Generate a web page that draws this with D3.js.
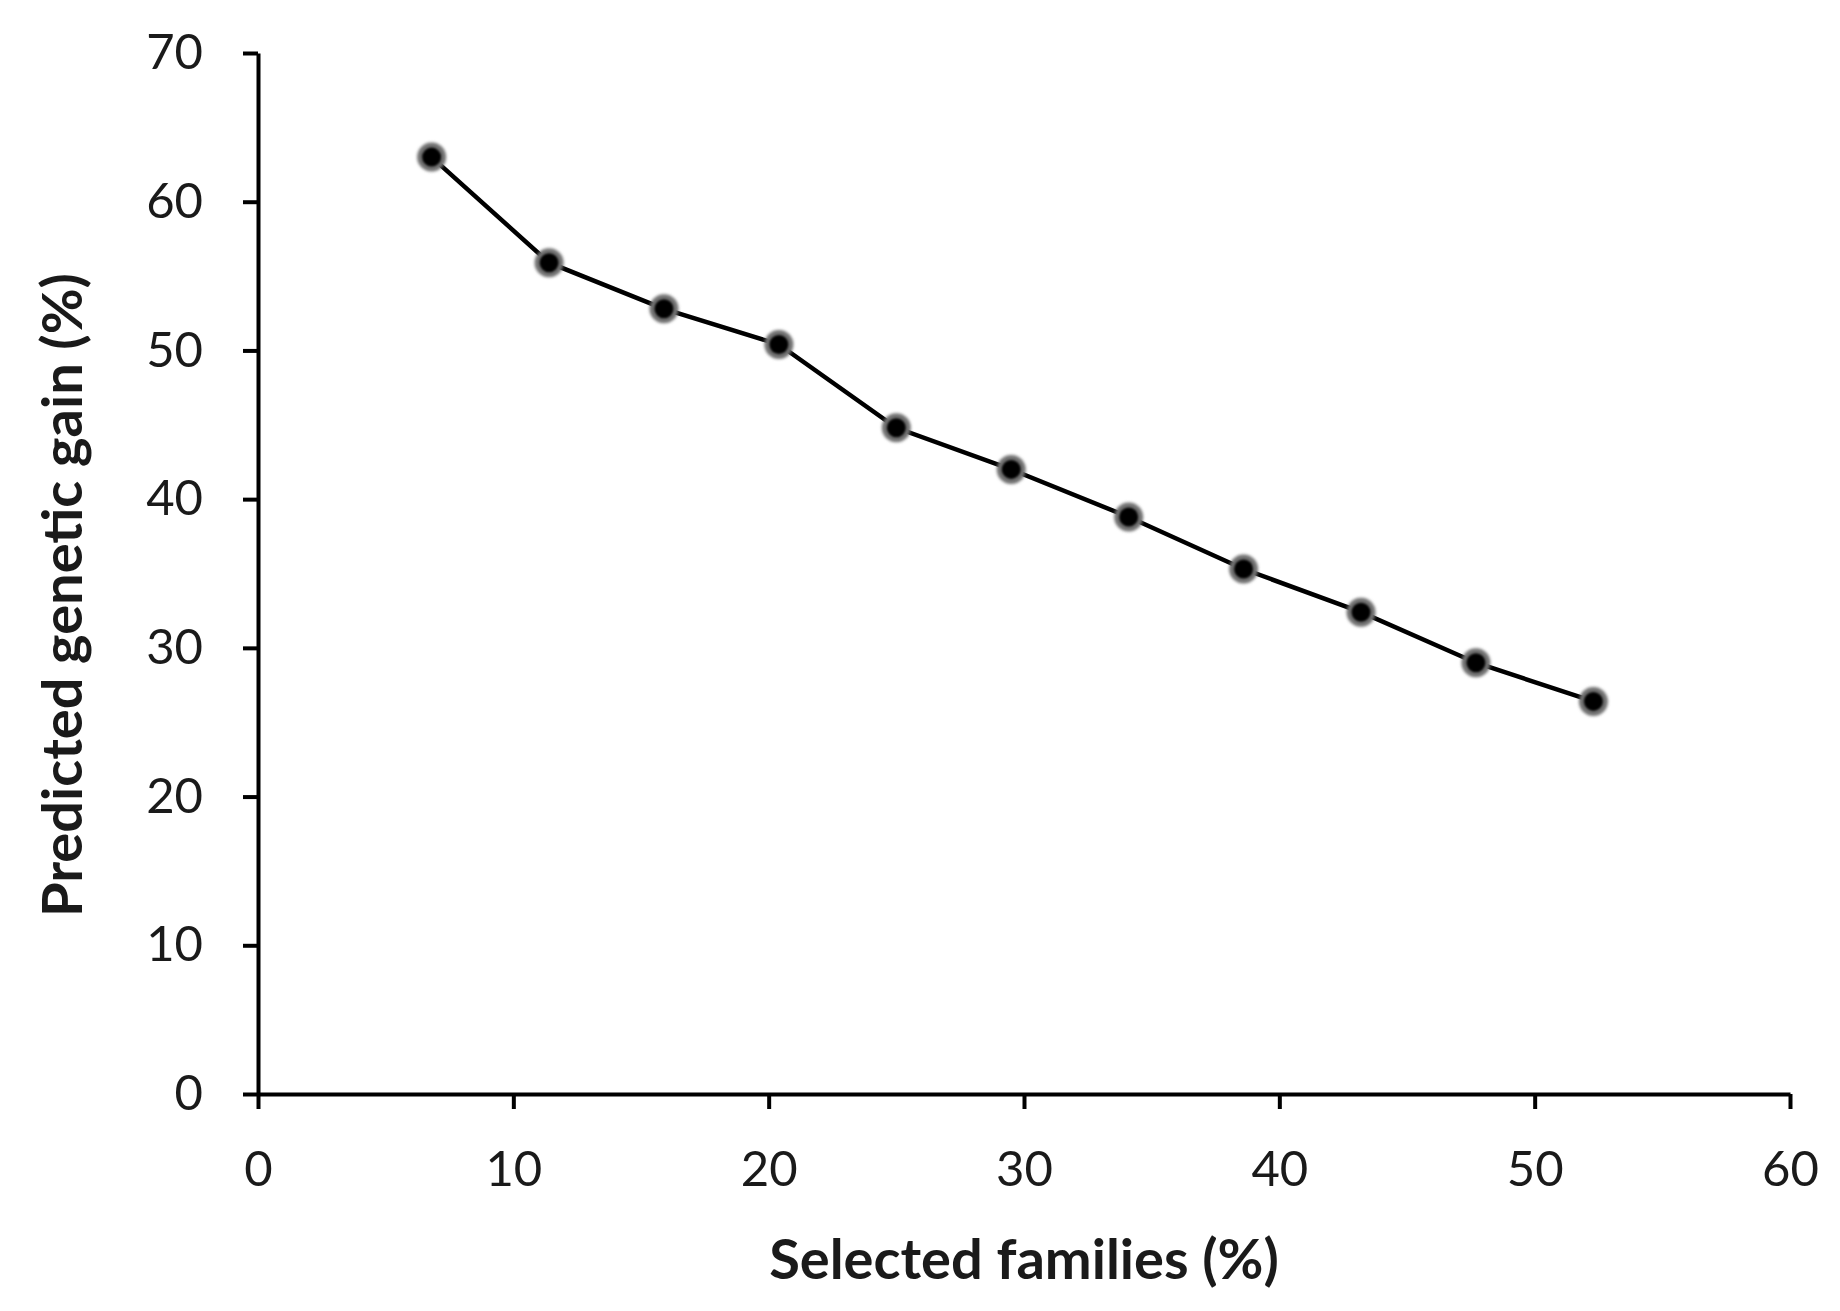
<!DOCTYPE html>
<html>
<head>
<meta charset="utf-8">
<script src="https://cdn.jsdelivr.net/npm/d3@7"></script>
<style>
  body { margin: 0; background: #fff; }
  text { font-family: Lato, "Open Sans", sans-serif; fill: #1a1a1a; }
  .axis path, .axis line { stroke: #000; stroke-width: 4; }
</style>
</head>
<body>
<script>
// selected families (%) and predicted genetic gain (%)
var selectedFamilies = [6.8, 11.4, 15.9, 20.4, 25.0, 29.5, 34.1, 38.6, 43.2, 47.7, 52.3];
var geneticGain      = [63.0, 55.9, 52.8, 50.4, 44.8, 42.0, 38.8, 35.3, 32.4, 29.0, 26.4];
var xTicks = [0, 10, 20, 30, 40, 50, 60];
var yTicks = [0, 10, 20, 30, 40, 50, 60, 70];

var W = 1840, H = 1311;
var margin = {left: 258, right: 50, top: 53, bottom: 217};
var width  = W - margin.left - margin.right;
var height = H - margin.top - margin.bottom;

var svg = d3.select("body").append("svg").attr("width", W).attr("height", H);

var defs = svg.append("defs");
defs.append("filter").attr("id", "soft").attr("x", "-50%").attr("y", "-50%").attr("width", "200%").attr("height", "200%")
  .append("feGaussianBlur").attr("stdDeviation", 1.8);
defs.append("filter").attr("id", "softer").attr("x", "-50%").attr("y", "-50%").attr("width", "200%").attr("height", "200%")
  .append("feGaussianBlur").attr("stdDeviation", 0.8);

var g = svg.append("g").attr("transform", "translate(" + margin.left + "," + margin.top + ")");

var x = d3.scaleLinear().domain([0, 60]).range([0, width]);
var y = d3.scaleLinear().domain([0, 70]).range([height, 0]);

var xAxis = d3.axisBottom(x).tickValues(xTicks).tickSize(15).tickSizeOuter(0).tickPadding(42);
var yAxis = d3.axisLeft(y).tickValues(yTicks).tickSize(15).tickSizeOuter(0).tickPadding(40);

g.append("g").attr("class", "axis").attr("transform", "translate(0," + height + ")").call(xAxis)
  .selectAll("text").style("font-size", "49px");
g.append("g").attr("class", "axis").call(yAxis)
  .selectAll("text").style("font-size", "49px");

var data = selectedFamilies.map(function(d, i) { return {x: d, y: geneticGain[i]}; });

var line = d3.line().x(function(d) { return x(d.x); }).y(function(d) { return y(d.y); });
g.append("path").attr("d", line(data)).attr("fill", "none").attr("stroke", "#000").attr("stroke-width", 4.5);

// soft grey halo, then black dot
g.append("g").selectAll("circle").data(data).enter().append("circle")
  .attr("cx", function(d) { return x(d.x); })
  .attr("cy", function(d) { return y(d.y); })
  .attr("r", 14.5)
  .attr("fill", "#707070")
  .attr("filter", "url(#soft)");

g.append("g").selectAll("circle").data(data).enter().append("circle")
  .attr("cx", function(d) { return x(d.x); })
  .attr("cy", function(d) { return y(d.y); })
  .attr("r", 9.5)
  .attr("fill", "#000")
  .attr("filter", "url(#softer)");

svg.append("text")
  .attr("x", margin.left + width / 2).attr("y", 1279)
  .attr("text-anchor", "middle")
  .style("font-size", "56px").style("font-weight", "bold")
  .text("Selected families (%)");

svg.append("text")
  .attr("transform", "translate(82," + 595 + ") rotate(-90)")
  .attr("text-anchor", "middle")
  .style("font-size", "56px").style("font-weight", "bold")
  .text("Predicted genetic gain (%)");
</script>
</body>
</html>
